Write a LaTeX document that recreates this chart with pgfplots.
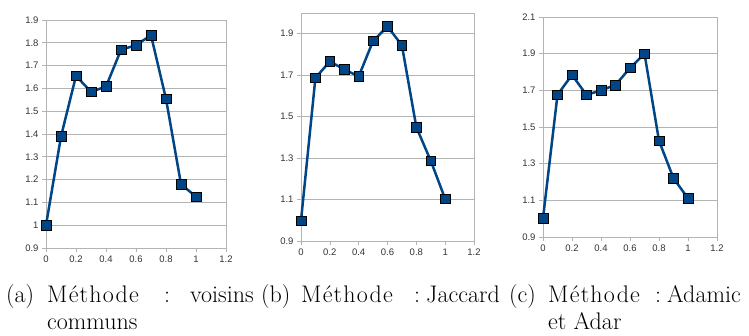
\documentclass[border=0pt]{standalone}
\usepackage{fontspec}
\usepackage{pgfplots}
\pgfplotsset{compat=1.18}
\newfontfamily\tickfont{Liberation Sans}
\newfontfamily\spacedfont[LetterSpace=5]{Latin Modern Roman}
\definecolor{serie}{HTML}{004586}
\definecolor{gridc}{HTML}{B3B3B3}
\definecolor{tickc}{HTML}{333333}
\pgfplotsset{
  refstyle/.style={
    scale only axis,
    anchor=south west,
    xmin=0, xmax=1.2,
    xtick={0,0.2,0.4,0.6,0.8,1,1.2},
    xticklabels={0,0.2,0.4,0.6,0.8,1,1.2},
    ymajorgrids,
    grid style={gridc, line width=0.6pt},
    axis line style={gridc, line width=0.6pt},
    tick style={gridc, line width=0.6pt},
    major tick length=4pt,
    tick align=outside,
    xtick pos=bottom, ytick pos=left,
    ticklabel style={font=\tickfont\fontsize{9.5}{10}\selectfont, text=tickc},
    /pgf/number format/assume math mode=true,
    clip=false,
  },
  serstyle/.style={serie, line width=2.5pt, mark=square*, mark size=4.8pt,
    mark options={draw=black, fill=serie, line width=0.6pt}},
}
\newcommand{\meth}{{\spacedfont Méthode}}
\begin{document}
\begin{tikzpicture}[x=1pt,y=1pt]
\useasboundingbox (0,0) rectangle (749,336);
% (a)
\begin{axis}[refstyle, at={(46pt,88pt)}, width=180pt, height=228pt,
  ymin=0.9, ymax=1.9,
  ytick={0.9,1,1.1,1.2,1.3,1.4,1.5,1.6,1.7,1.8,1.9},
  yticklabels={0.9,1,1.1,1.2,1.3,1.4,1.5,1.6,1.7,1.8,1.9}]
\addplot[serstyle] coordinates {(0,1.0) (0.1,1.389) (0.2,1.655) (0.3,1.585) (0.4,1.608) (0.5,1.769) (0.6,1.790) (0.7,1.833) (0.8,1.554) (0.9,1.180) (1.0,1.125)};
\end{axis}
% (b)
\begin{axis}[refstyle, at={(301pt,95pt)}, width=173pt, height=228pt,
  ymin=0.9, ymax=2.0,
  ytick={0.9,1.1,1.3,1.5,1.7,1.9},
  yticklabels={0.9,1.1,1.3,1.5,1.7,1.9}]
\addplot[serstyle] coordinates {(0,0.998) (0.1,1.687) (0.2,1.766) (0.3,1.728) (0.4,1.694) (0.5,1.865) (0.6,1.935) (0.7,1.844) (0.8,1.449) (0.9,1.287) (1.0,1.103)};
\end{axis}
% (c)
\begin{axis}[refstyle, at={(543pt,99pt)}, width=174pt, height=220pt,
  ymin=0.9, ymax=2.1,
  ytick={0.9,1.1,1.3,1.5,1.7,1.9,2.1},
  yticklabels={0.9,1.1,1.3,1.5,1.7,1.9,2.1}]
\addplot[serstyle] coordinates {(0,1.002) (0.1,1.676) (0.2,1.784) (0.3,1.675) (0.4,1.700) (0.5,1.729) (0.6,1.822) (0.7,1.900) (0.8,1.425) (0.9,1.220) (1.0,1.111)};
\end{axis}
% captions
\begin{scope}[every node/.style={inner sep=0pt, anchor=base west, font=\fontsize{24}{29}\selectfont}]
% (a)
\node at (6,33) {(a)};
\node at (47,33) {\meth};
\node at (164,33) {:};
\node at (190,33) {voisins};
\node at (47,6) {communs};
% (b)
\node at (261,33) {(b)};
\node at (301,33) {\meth};
\node at (414,33) {:};
\node at (426,33) {Jaccard};
% (c)
\node at (509,33) {(c)};
\node at (548,33) {\meth};
\node at (655,33) {:};
\node at (667,33) {Adamic};
\node at (548,6) {et Adar};
\end{scope}
\end{tikzpicture}
\end{document}
